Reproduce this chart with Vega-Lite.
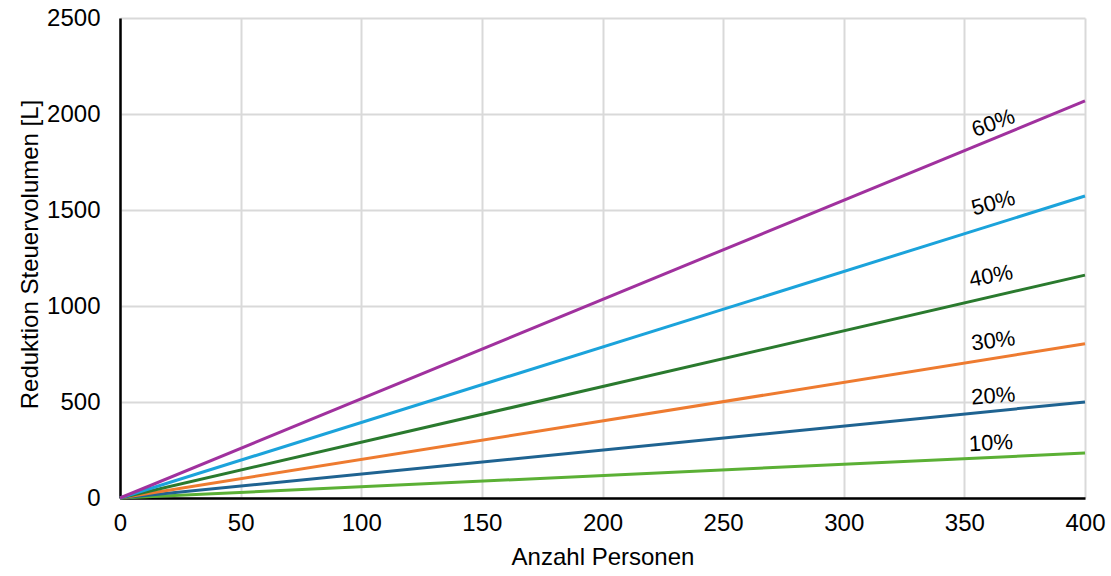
{
  "$schema": "https://vega.github.io/schema/vega-lite/v6.json",
  "width": 965,
  "height": 480,
  "autosize": "none",
  "padding": {"left": 120, "top": 18, "right": 26, "bottom": 78},
  "background": "white",
  "config": {
    "font": "Liberation Sans",
    "view": {"stroke": null},
    "axis": {
      "labelFont": "Liberation Sans",
      "titleFont": "Liberation Sans",
      "labelFontSize": 24,
      "titleFontSize": 24,
      "titleFontWeight": "normal",
      "labelColor": "#000000",
      "titleColor": "#000000",
      "gridColor": "#d9d9d9",
      "gridWidth": 2,
      "domainColor": "#000000",
      "domainWidth": 2.5,
      "ticks": false,
      "labelFlush": false,
      "labelOverlap": false,
      "format": "d"
    }
  },
  "datasets": {
    "lines": [
      {"personen": 0, "volumen": 0, "anteil": "10%"},
      {"personen": 400, "volumen": 234, "anteil": "10%"},
      {"personen": 0, "volumen": 0, "anteil": "20%"},
      {"personen": 400, "volumen": 500, "anteil": "20%"},
      {"personen": 0, "volumen": 0, "anteil": "30%"},
      {"personen": 400, "volumen": 803, "anteil": "30%"},
      {"personen": 0, "volumen": 0, "anteil": "40%"},
      {"personen": 400, "volumen": 1161, "anteil": "40%"},
      {"personen": 0, "volumen": 0, "anteil": "50%"},
      {"personen": 400, "volumen": 1573, "anteil": "50%"},
      {"personen": 0, "volumen": 0, "anteil": "60%"},
      {"personen": 400, "volumen": 2068, "anteil": "60%"}
    ],
    "labels": [
      {"personen": 361, "volumen": 286, "anteil": "10%"},
      {"personen": 362, "volumen": 531, "anteil": "20%"},
      {"personen": 362, "volumen": 818, "anteil": "30%"},
      {"personen": 361, "volumen": 1156, "anteil": "40%"},
      {"personen": 362, "volumen": 1536, "anteil": "50%"},
      {"personen": 362, "volumen": 1953, "anteil": "60%"}
    ]
  },
  "encoding": {
    "x": {
      "field": "personen", "type": "quantitative",
      "scale": {"domain": [0, 400], "nice": false},
      "axis": {"values": [0, 50, 100, 150, 200, 250, 300, 350, 400], "title": "Anzahl Personen", "labelPadding": 13, "titlePadding": 10}
    },
    "y": {
      "field": "volumen", "type": "quantitative",
      "scale": {"domain": [0, 2500], "nice": false},
      "axis": {"values": [0, 500, 1000, 1500, 2000, 2500], "title": "Reduktion Steuervolumen [L]", "labelPadding": 20, "titleX": -90, "titleY": 236, "titleAngle": -90, "titleAlign": "center", "titleBaseline": "middle"}
    }
  },
  "layer": [
    {
      "data": {"name": "lines"},
      "mark": {"type": "line", "strokeWidth": 3},
      "encoding": {
        "color": {
          "field": "anteil", "type": "nominal",
          "scale": {"domain": ["10%", "20%", "30%", "40%", "50%", "60%"], "range": ["#5BB035", "#1F6391", "#EE7B30", "#2A7A2E", "#1BA3DB", "#A0319E"]},
          "legend": null
        }
      }
    },
    {"data": {"name": "labels"}, "transform": [{"filter": "datum.anteil === '10%'"}], "mark": {"type": "text", "fontSize": 22, "angle": -3, "color": "#000000"}, "encoding": {"text": {"field": "anteil"}}},
    {"data": {"name": "labels"}, "transform": [{"filter": "datum.anteil === '20%'"}], "mark": {"type": "text", "fontSize": 22, "angle": -4, "color": "#000000"}, "encoding": {"text": {"field": "anteil"}}},
    {"data": {"name": "labels"}, "transform": [{"filter": "datum.anteil === '30%'"}], "mark": {"type": "text", "fontSize": 22, "angle": -7, "color": "#000000"}, "encoding": {"text": {"field": "anteil"}}},
    {"data": {"name": "labels"}, "transform": [{"filter": "datum.anteil === '40%'"}], "mark": {"type": "text", "fontSize": 22, "angle": -11, "color": "#000000"}, "encoding": {"text": {"field": "anteil"}}},
    {"data": {"name": "labels"}, "transform": [{"filter": "datum.anteil === '50%'"}], "mark": {"type": "text", "fontSize": 22, "angle": -15, "color": "#000000"}, "encoding": {"text": {"field": "anteil"}}},
    {"data": {"name": "labels"}, "transform": [{"filter": "datum.anteil === '60%'"}], "mark": {"type": "text", "fontSize": 22, "angle": -20, "color": "#000000"}, "encoding": {"text": {"field": "anteil"}}}
  ]
}
